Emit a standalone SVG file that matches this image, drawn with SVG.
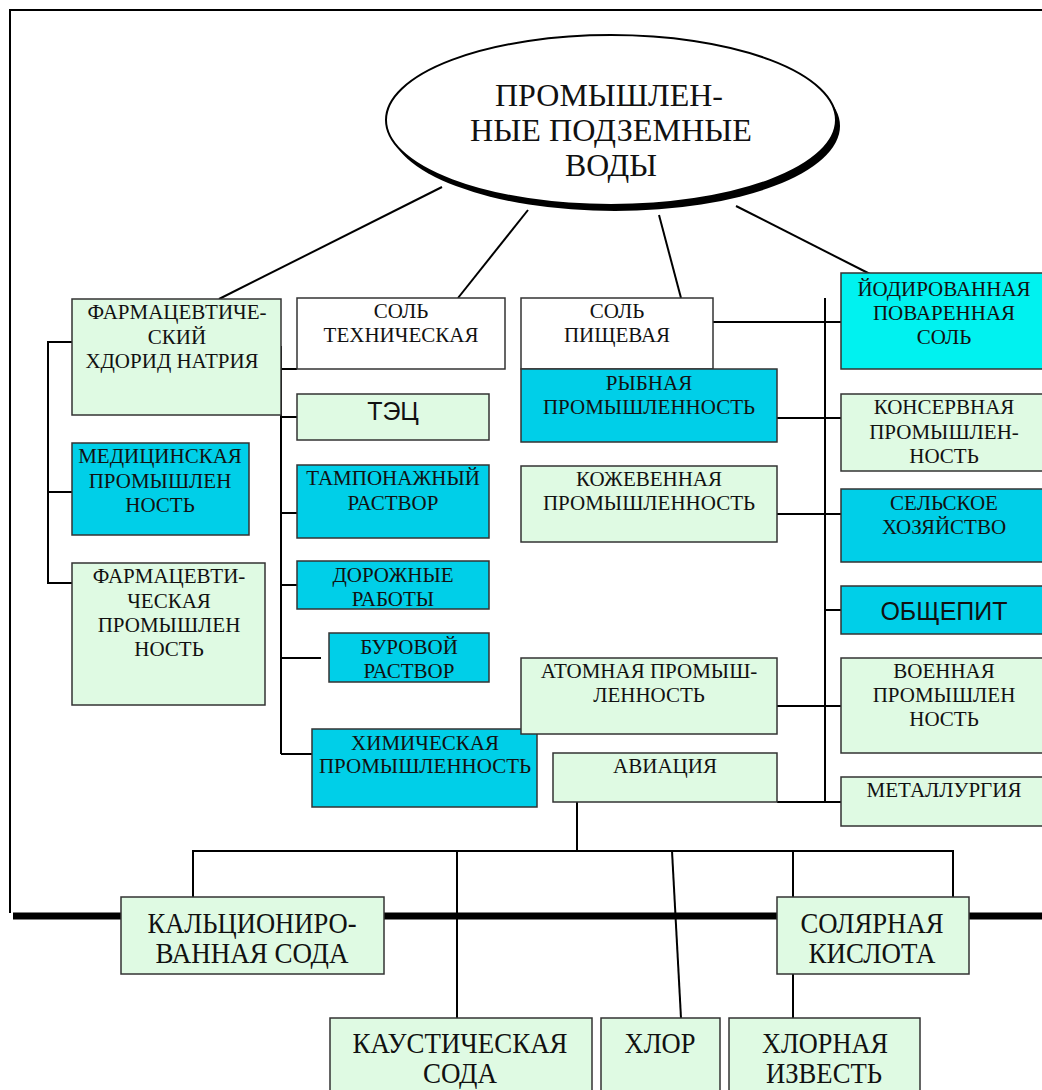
<svg xmlns="http://www.w3.org/2000/svg" width="1042" height="1090" viewBox="0 0 1042 1090">
<style>
.t{font-family:"Liberation Serif","Times New Roman",serif;font-size:21px;text-anchor:middle;fill:#111}
.s{font-family:"Liberation Sans",Arial,sans-serif;font-size:25px;text-anchor:middle;fill:#111}
.big{font-family:"Liberation Serif","Times New Roman",serif;font-size:30px;text-anchor:middle;fill:#111}
.top{font-family:"Liberation Serif","Times New Roman",serif;font-size:31px;text-anchor:middle;fill:#111}
.g{fill:#dffae3;stroke:#333;stroke-width:1.5}
.c{fill:#00cfe8;stroke:#333;stroke-width:1.5}
.a{fill:#00f2f0;stroke:#333;stroke-width:1.5}
.w{fill:#ffffff;stroke:#333;stroke-width:1.5}
.ln{fill:none;stroke:#000;stroke-width:2}
</style>
<rect width="1042" height="1090" fill="#fff"/>
<g id="frame">
<path d="M1042,10 H10 V913" fill="none" stroke="#000" stroke-width="2"/>
<line x1="13" y1="916" x2="1042" y2="916" stroke="#000" stroke-width="7"/>
</g>
<g id="connectors" class="ln">
<line x1="442" y1="187" x2="219" y2="299"/>
<line x1="528" y1="210" x2="458" y2="298"/>
<line x1="659" y1="215" x2="681" y2="298"/>
<line x1="736" y1="206" x2="870" y2="274"/>
<polyline points="72,342 48,342 48,583 72,583"/>
<line x1="48" y1="492" x2="72" y2="492"/>
<polyline points="265,369 297,369"/>
<line x1="281" y1="346" x2="281" y2="754"/>
<line x1="281" y1="417" x2="321" y2="417"/>
<line x1="281" y1="513" x2="305" y2="513"/>
<line x1="281" y1="585" x2="297" y2="585"/>
<line x1="281" y1="658" x2="321" y2="658"/>
<line x1="281" y1="754" x2="312" y2="754"/>
<line x1="825" y1="298" x2="825" y2="802"/>
<line x1="713" y1="322" x2="841" y2="322"/>
<line x1="777" y1="418" x2="841" y2="418"/>
<line x1="777" y1="514" x2="841" y2="514"/>
<line x1="825" y1="610" x2="841" y2="610"/>
<line x1="777" y1="706" x2="841" y2="706"/>
<line x1="777" y1="802" x2="841" y2="802"/>
<line x1="577" y1="802" x2="577" y2="851"/>
<polyline points="193,897 193,851 953,851 953,897"/>
<line x1="457" y1="851" x2="457" y2="1018"/>
<line x1="672" y1="851" x2="681" y2="1018"/>
<line x1="793" y1="851" x2="793" y2="897"/>
<line x1="793" y1="974" x2="793" y2="1018"/>
</g>
<g id="root">
<ellipse cx="615" cy="126" rx="225" ry="85" fill="#000"/>
<ellipse cx="611" cy="120" rx="225" ry="85" fill="#fff" stroke="#000" stroke-width="2"/>
<text class="top" x="609" y="106" textLength="228" lengthAdjust="spacingAndGlyphs">ПРОМЫШЛЕН-</text>
<text class="top" x="611" y="141" textLength="282" lengthAdjust="spacingAndGlyphs">НЫЕ ПОДЗЕМНЫЕ</text>
<text class="top" x="611" y="176" textLength="92" lengthAdjust="spacingAndGlyphs">ВОДЫ</text>
</g>
<g id="n-farm-hlorid">
<rect class="g" x="72" y="299" width="209" height="116"/>
<text class="t" x="177" y="319">ФАРМАЦЕВТИЧЕ-</text>
<text class="t" x="177" y="344">СКИЙ</text>
<text class="t" x="172" y="368">ХДОРИД НАТРИЯ</text>
</g>
<g id="n-sol-tech">
<rect class="w" x="297" y="298" width="208" height="71"/>
<text class="t" x="401" y="318">СОЛЬ</text>
<text class="t" x="401" y="342">ТЕХНИЧЕСКАЯ</text>
</g>
<g id="n-tec">
<rect class="g" x="297" y="394" width="192" height="46"/>
<text class="s" x="393" y="420">ТЭЦ</text>
</g>
<g id="n-med">
<rect class="c" x="72" y="443" width="177" height="92"/>
<text class="t" x="160" y="463">МЕДИЦИНСКАЯ</text>
<text class="t" x="160" y="488">ПРОМЫШЛЕН</text>
<text class="t" x="160" y="512">НОСТЬ</text>
</g>
<g id="n-tampon">
<rect class="c" x="297" y="465" width="192" height="73"/>
<text class="t" x="393" y="485">ТАМПОНАЖНЫЙ</text>
<text class="t" x="393" y="510">РАСТВОР</text>
</g>
<g id="n-farm-prom">
<rect class="g" x="72" y="563" width="193" height="142"/>
<text class="t" x="169" y="583">ФАРМАЦЕВТИ-</text>
<text class="t" x="169" y="608">ЧЕСКАЯ</text>
<text class="t" x="169" y="632">ПРОМЫШЛЕН</text>
<text class="t" x="169" y="656">НОСТЬ</text>
</g>
<g id="n-dor">
<rect class="c" x="297" y="561" width="192" height="48"/>
<text class="t" x="393" y="582">ДОРОЖНЫЕ</text>
<text class="t" x="393" y="606">РАБОТЫ</text>
</g>
<g id="n-bur">
<rect class="c" x="329" y="633" width="160" height="49"/>
<text class="t" x="409" y="654">БУРОВОЙ</text>
<text class="t" x="409" y="678">РАСТВОР</text>
</g>
<g id="n-him">
<rect class="c" x="312" y="729" width="225" height="78"/>
<text class="t" x="425" y="750">ХИМИЧЕСКАЯ</text>
<text class="t" x="425" y="773">ПРОМЫШЛЕННОСТЬ</text>
</g>
<g id="n-sol-pish">
<rect class="w" x="521" y="298" width="192" height="71"/>
<text class="t" x="617" y="318">СОЛЬ</text>
<text class="t" x="617" y="342">ПИЩЕВАЯ</text>
</g>
<g id="n-ryb">
<rect class="c" x="521" y="369" width="256" height="73"/>
<text class="t" x="649" y="390">РЫБНАЯ</text>
<text class="t" x="649" y="414">ПРОМЫШЛЕННОСТЬ</text>
</g>
<g id="n-kozh">
<rect class="g" x="521" y="466" width="256" height="76"/>
<text class="t" x="649" y="486">КОЖЕВЕННАЯ</text>
<text class="t" x="649" y="510">ПРОМЫШЛЕННОСТЬ</text>
</g>
<g id="n-atom">
<rect class="g" x="521" y="658" width="256" height="76"/>
<text class="t" x="649" y="678">АТОМНАЯ ПРОМЫШ-</text>
<text class="t" x="649" y="702">ЛЕННОСТЬ</text>
</g>
<g id="n-avia">
<rect class="g" x="553" y="753" width="224" height="49"/>
<text class="t" x="665" y="773">АВИАЦИЯ</text>
</g>
<g id="n-jod">
<rect class="a" x="841" y="273" width="210" height="96"/>
<text class="t" x="944" y="296">ЙОДИРОВАННАЯ</text>
<text class="t" x="944" y="320">ПОВАРЕННАЯ</text>
<text class="t" x="944" y="344">СОЛЬ</text>
</g>
<g id="n-kons">
<rect class="g" x="841" y="394" width="210" height="77"/>
<text class="t" x="944" y="414">КОНСЕРВНАЯ</text>
<text class="t" x="944" y="439">ПРОМЫШЛЕН-</text>
<text class="t" x="944" y="463">НОСТЬ</text>
</g>
<g id="n-selh">
<rect class="c" x="841" y="489" width="210" height="73"/>
<text class="t" x="944" y="510">СЕЛЬСКОЕ</text>
<text class="t" x="944" y="534">ХОЗЯЙСТВО</text>
</g>
<g id="n-obsh">
<rect class="c" x="841" y="586" width="210" height="48"/>
<text class="s" x="944" y="620">ОБЩЕПИТ</text>
</g>
<g id="n-voen">
<rect class="g" x="841" y="658" width="210" height="95"/>
<text class="t" x="944" y="678">ВОЕННАЯ</text>
<text class="t" x="944" y="702">ПРОМЫШЛЕН</text>
<text class="t" x="944" y="726">НОСТЬ</text>
</g>
<g id="n-met">
<rect class="g" x="841" y="777" width="210" height="49"/>
<text class="t" x="944" y="797">МЕТАЛЛУРГИЯ</text>
</g>
<g id="n-kalc">
<rect class="g" x="121" y="897" width="263" height="77"/>
<text class="big" x="252" y="933" textLength="209" lengthAdjust="spacingAndGlyphs">КАЛЬЦИОНИРО-</text>
<text class="big" x="252" y="963" textLength="193" lengthAdjust="spacingAndGlyphs">ВАННАЯ СОДА</text>
</g>
<g id="n-solyar">
<rect class="g" x="777" y="897" width="192" height="77"/>
<text class="big" x="872" y="933" textLength="143" lengthAdjust="spacingAndGlyphs">СОЛЯРНАЯ</text>
<text class="big" x="872" y="963" textLength="127" lengthAdjust="spacingAndGlyphs">КИСЛОТА</text>
</g>
<g id="n-kaust">
<rect class="g" x="330" y="1018" width="262" height="80"/>
<text class="big" x="460" y="1053" textLength="215" lengthAdjust="spacingAndGlyphs">КАУСТИЧЕСКАЯ</text>
<text class="big" x="460" y="1083" textLength="74" lengthAdjust="spacingAndGlyphs">СОДА</text>
</g>
<g id="n-hlor">
<rect class="g" x="601" y="1018" width="119" height="80"/>
<text class="big" x="660" y="1053" textLength="71" lengthAdjust="spacingAndGlyphs">ХЛОР</text>
</g>
<g id="n-hlor-izv">
<rect class="g" x="729" y="1018" width="191" height="80"/>
<text class="big" x="825" y="1053" textLength="126" lengthAdjust="spacingAndGlyphs">ХЛОРНАЯ</text>
<text class="big" x="824" y="1083" textLength="116" lengthAdjust="spacingAndGlyphs">ИЗВЕСТЬ</text>
</g>
</svg>
